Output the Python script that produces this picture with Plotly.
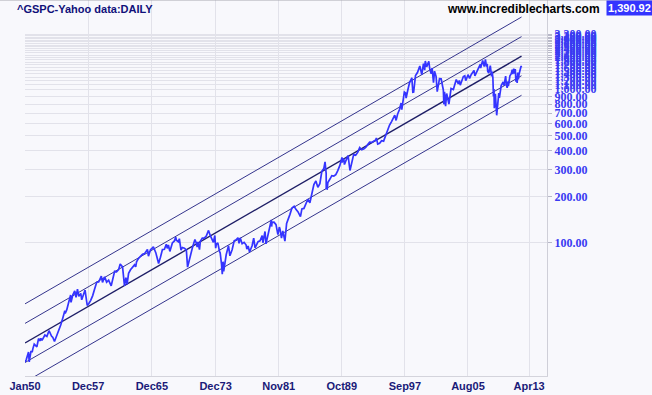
import math
import plotly.graph_objects as go

# ---------------- data ----------------
dates = [
"1950-01-03","1950-03-01","1950-06-12","1950-07-13","1950-09-29","1950-11-30","1950-12-29",
"1951-02-28","1951-06-29","1951-09-14","1951-11-30","1951-12-31",
"1952-02-20","1952-06-30","1952-09-30","1952-12-31",
"1953-01-05","1953-04-30","1953-06-30","1953-09-14","1953-12-31",
"1954-03-31","1954-06-30","1954-09-30","1954-12-31",
"1955-01-17","1955-03-31","1955-06-30","1955-09-23","1955-09-26","1955-10-11","1955-12-30",
"1956-03-30","1956-05-28","1956-08-02","1956-10-01","1956-12-31",
"1957-02-12","1957-07-15","1957-10-22","1957-12-31",
"1958-03-31","1958-06-30","1958-09-30","1958-12-31",
"1959-03-31","1959-07-31","1959-09-22","1959-12-31",
"1960-03-31","1960-06-30","1960-10-25","1960-12-30",
"1961-03-31","1961-06-30","1961-09-29","1961-12-12",
"1962-03-30","1962-06-26","1962-08-31","1962-10-23","1962-12-31",
"1963-03-29","1963-06-28","1963-09-30","1963-11-22","1963-12-31",
"1964-03-31","1964-06-30","1964-09-30","1964-12-31",
"1965-05-13","1965-06-28","1965-09-30","1965-12-31",
"1966-02-09","1966-05-31","1966-08-29","1966-10-07","1966-12-30",
"1967-03-31","1967-06-30","1967-09-25","1967-11-07","1967-12-29",
"1968-03-05","1968-06-28","1968-09-30","1968-11-29","1968-12-31",
"1969-03-31","1969-05-14","1969-07-29","1969-09-30","1969-12-31",
"1970-03-31","1970-05-26","1970-06-30","1970-09-30","1970-12-31",
"1971-04-28","1971-06-30","1971-08-09","1971-09-08","1971-11-23","1971-12-31",
"1972-03-31","1972-06-30","1972-09-29","1972-12-29",
"1973-01-11","1973-03-30","1973-06-29","1973-08-22","1973-10-26","1973-12-05","1973-12-31",
"1974-03-13","1974-05-31","1974-06-28","1974-08-30","1974-10-03","1974-11-07","1974-12-06","1974-12-31",
"1975-03-31","1975-07-15","1975-09-16","1975-12-31",
"1976-03-31","1976-06-30","1976-09-21","1976-11-10","1976-12-31",
"1977-03-31","1977-06-30","1977-09-30","1977-11-02","1977-12-30",
"1978-03-06","1978-06-30","1978-09-12","1978-11-14","1978-12-29",
"1979-03-30","1979-06-29","1979-10-05","1979-11-07","1979-12-31",
"1980-02-13","1980-03-27","1980-06-30","1980-09-30","1980-11-28","1980-12-11","1980-12-31",
"1981-03-31","1981-06-30","1981-09-25","1981-11-30","1981-12-31",
"1982-03-08","1982-05-07","1982-06-30","1982-08-12","1982-10-29","1982-12-31",
"1983-03-31","1983-06-30","1983-10-10","1983-12-30",
"1984-03-30","1984-07-24","1984-09-28","1984-12-31",
"1985-03-29","1985-06-28","1985-09-30","1985-12-31",
"1986-03-31","1986-07-02","1986-09-29","1986-12-31",
"1987-03-31","1987-06-30","1987-08-25","1987-10-16","1987-10-19","1987-12-04","1987-12-31",
"1988-03-31","1988-06-30","1988-09-30","1988-12-30",
"1989-03-31","1989-06-30","1989-10-09","1989-10-13","1989-12-29",
"1990-01-30","1990-03-30","1990-07-16","1990-10-11","1990-12-31",
"1991-03-28","1991-06-28","1991-09-30","1991-12-31",
"1992-03-31","1992-06-30","1992-09-30","1992-12-31",
"1993-03-31","1993-06-30","1993-09-30","1993-12-31",
"1994-02-02","1994-04-04","1994-06-30","1994-09-30","1994-12-30",
"1995-03-31","1995-06-30","1995-09-29","1995-12-29",
"1996-03-29","1996-05-24","1996-07-24","1996-09-30","1996-12-31",
"1997-03-11","1997-04-11","1997-06-30","1997-08-06","1997-09-30","1997-10-27","1997-12-31",
"1998-03-31","1998-07-17","1998-08-31","1998-10-08","1998-11-30","1998-12-31",
"1999-03-31","1999-07-16","1999-10-15","1999-12-31",
"2000-02-25","2000-03-24","2000-05-24","2000-09-01","2000-10-18","2000-12-20",
"2001-01-30","2001-04-04","2001-05-21","2001-07-31","2001-09-21","2001-12-05",
"2002-01-04","2002-03-19","2002-06-28","2002-07-23","2002-08-22","2002-10-09","2002-11-27",
"2003-03-11","2003-06-17","2003-09-30","2003-12-31",
"2004-02-11","2004-05-17","2004-06-30","2004-08-12","2004-12-31",
"2005-03-07","2005-04-20","2005-08-03","2005-10-13","2005-12-30",
"2006-05-05","2006-06-13","2006-09-29","2006-12-29",
"2007-02-20","2007-03-05","2007-06-04","2007-08-16","2007-10-09","2007-11-26","2007-12-31",
"2008-01-22","2008-03-10","2008-05-19","2008-07-15","2008-08-11","2008-09-15","2008-10-10","2008-11-04","2008-11-20",
"2009-01-06","2009-01-30","2009-03-09","2009-06-12","2009-07-10","2009-09-30","2009-12-31",
"2010-02-08","2010-04-23","2010-05-25","2010-07-02","2010-08-09","2010-08-26","2010-11-05","2010-12-31",
"2011-02-18","2011-03-16","2011-04-29","2011-06-16","2011-07-07","2011-08-08","2011-08-31","2011-10-03","2011-10-27","2011-11-25","2011-12-30",
"2012-02-29","2012-04-02","2012-04-13",
]
closes = [
16.66,17.3,19.4,16.7,19.5,19.5,20.4,
21.8,20.96,23.7,22.9,23.8,
23.1,25.0,24.5,26.6,
26.7,24.6,24.1,22.7,24.8,
26.9,29.2,32.3,36.0,
34.6,36.6,41.0,45.6,42.6,40.8,45.5,
48.5,44.1,49.7,44.7,46.7,
42.4,49.1,39.0,40.0,
42.1,45.2,50.1,55.2,
55.4,60.5,55.1,59.9,
55.3,56.9,52.3,58.1,
65.1,64.6,66.7,72.6,
69.6,52.3,59.1,53.5,63.1,
66.6,69.4,71.7,69.6,75.0,
79.0,81.7,84.2,84.8,
90.3,81.6,90.0,92.4,
94.1,86.1,74.5,73.2,80.3,
90.2,90.6,97.6,91.8,96.5,
87.7,99.6,102.7,108.4,103.9,
101.5,106.2,89.5,93.1,92.1,
89.6,69.3,72.7,84.2,92.2,
104.8,99.7,93.5,101.3,90.2,102.1,
107.2,107.1,110.6,118.1,
120.2,111.5,104.3,100.5,111.4,92.2,97.6,
99.7,87.3,86.0,72.2,62.3,75.2,65.0,68.6,
83.4,95.6,82.1,90.2,
102.8,104.3,107.8,99.0,107.5,
98.4,100.5,96.5,90.7,95.1,
86.9,95.5,107.0,92.5,96.1,
101.6,102.9,111.3,99.9,107.9,
118.4,98.2,114.2,125.5,140.5,127.4,135.8,
136.0,131.2,112.8,126.4,122.6,
107.3,119.5,109.6,102.4,133.7,140.6,
153.0,168.1,172.6,164.9,
159.2,147.8,166.1,167.2,
180.7,191.9,182.1,211.3,
238.9,252.7,229.9,242.2,
291.7,304.0,336.8,282.7,224.8,223.9,247.1,
258.9,273.5,271.9,277.7,
294.9,318.0,359.8,333.7,353.4,
323.0,339.9,369.0,295.5,330.2,
375.2,371.2,387.9,417.1,
403.7,408.1,417.8,435.7,
451.7,450.5,458.9,466.5,
482.0,438.9,444.3,462.7,459.3,
500.7,544.8,584.4,615.9,
645.5,678.5,626.7,687.3,740.7,
813.7,737.7,885.1,960.3,947.3,877.0,970.4,
1101.8,1186.8,957.3,959.4,1163.6,1229.2,
1286.4,1418.8,1247.4,1469.3,
1333.4,1527.5,1399.1,1520.8,1342.1,1264.7,
1373.7,1103.3,1312.8,1211.2,965.8,1170.4,
1172.5,1170.3,989.8,797.7,962.7,776.8,938.9,
800.7,1011.7,996.0,1111.9,
1157.8,1084.1,1140.8,1063.2,1211.9,
1225.3,1137.5,1245.0,1177.0,1248.3,
1325.8,1223.7,1335.9,1418.3,
1459.7,1374.1,1539.2,1406.7,1565.2,1407.2,1468.4,
1310.5,1273.4,1426.6,1214.9,1305.3,1192.7,899.2,1005.8,752.4,
934.7,825.9,676.5,946.2,879.1,1057.1,1115.1,
1056.7,1217.3,1074.0,1022.6,1127.8,1047.2,1225.9,1257.6,
1343.0,1256.9,1363.6,1267.6,1353.2,1119.5,1218.9,1099.2,1284.6,1158.7,1257.6,
1365.7,1419.0,1390.92,
]

x_tick_dates = ["1950-01-01","1957-12-01","1965-12-01","1973-12-01","1981-11-01",
                "1989-10-01","1997-09-01","2005-08-01","2013-04-01"]
x_tick_text = ["Jan50","Dec57","Dec65","Dec73","Nov81","Oct89","Sep97","Aug05","Apr13"]

y_low_ticks = [100, 200, 300, 400, 500, 600, 700, 800, 900]
y_high_ticks = [1000 + 100 * i for i in range(24)]   # 1,000 ... 3,300 (crowded in the reference)

# regression channel (log scale): mid-line start / end values and band steps
channel_dates = ["1950-01-03", "2012-04-20"]
channel_mid = [22.2, 1644.0]
channel_bands = [-2, -1, 0, 1, 2]
band_step_decades = 0.1275

last_price_text = "1,390.92"

# ---------------- figure ----------------
fig = go.Figure()

for b in channel_bands:
    f = 10 ** (b * band_step_decades)
    fig.add_trace(go.Scatter(
        x=channel_dates, y=[m * f for m in channel_mid], mode="lines",
        line=dict(color="#1e1e66" if b == 0 else "#34348c", width=1.4 if b == 0 else 1.0),
        hoverinfo="skip", showlegend=False))

fig.add_trace(go.Scatter(x=dates, y=closes, mode="lines",
                         line=dict(color="#3434ff", width=1.7), showlegend=False))

# crowded upper labels, as in the reference
compress = 0.693
tickvals = list(y_low_ticks) + [10 ** (3 + compress * math.log10(v / 1000)) for v in y_high_ticks]
ticktext = ["{:,.2f}".format(v) for v in y_low_ticks + y_high_ticks]

L, R, T, B = 25, 105, 0, 19
W, H = 652, 395
pw, ph = W - L - R, H - T - B

def px(xp):
    return (xp - L) / pw

def py(yp):
    return (H - B - yp) / ph

fig.update_layout(
    width=W, height=H, autosize=False,
    margin=dict(l=L, r=R, t=T, b=B),
    paper_bgcolor="#f8f8fc", plot_bgcolor="#f8f8fc",
    showlegend=False,
    xaxis=dict(type="date", range=["1950-01-01", "2015-07-01"],
               tickmode="array", tickvals=x_tick_dates, ticktext=x_tick_text,
               showgrid=True, gridcolor="#e2e2ea", gridwidth=1,
               showline=True, linecolor="#d4d4dc", linewidth=1,
               ticks="", zeroline=False,
               tickfont=dict(family="Liberation Sans", size=11, color="#1a1a78", weight="bold"),
               fixedrange=True),
    yaxis=dict(type="log", side="right", range=[1.131, 3.582],
               tickmode="array", tickvals=tickvals, ticktext=ticktext,
               showgrid=True, gridcolor="#e2e2ea", gridwidth=1,
               showline=True, linecolor="#cfcfd8", linewidth=1,
               ticks="outside", ticklen=4, tickcolor="#b8b8c8",
               tickfont=dict(family="Liberation Serif", size=12, color="#3a3af2", weight="bold"),
               zeroline=False, fixedrange=True),
    shapes=[dict(type="line", xref="paper", yref="paper", x0=px(0), x1=px(W), y0=1, y1=1,
                 line=dict(color="#a8a8b0", width=1))],
    annotations=[
        dict(text="<b>^GSPC-Yahoo data:DAILY</b>", xref="paper", yref="paper",
             x=px(15), y=py(9), xanchor="left", yanchor="middle", showarrow=False,
             font=dict(family="Liberation Sans", size=11, color="#10107a")),
        dict(text="<b>www.incrediblecharts.com</b>", xref="paper", yref="paper",
             x=px(602), y=py(9), xanchor="right", yanchor="middle", showarrow=False,
             font=dict(family="Liberation Sans", size=12, color="#000000")),
        dict(text="<b>" + last_price_text + "</b>", xref="paper", yref="paper",
             x=px(606), y=py(8), xanchor="left", yanchor="middle", showarrow=False,
             bgcolor="#3434ff", borderpad=1,
             font=dict(family="Liberation Sans", size=11, color="#ffffff")),
    ],
)

fig.write_html("out.html", config={"displayModeBar": False},
               post_script="document.body.style.margin='0px';")
